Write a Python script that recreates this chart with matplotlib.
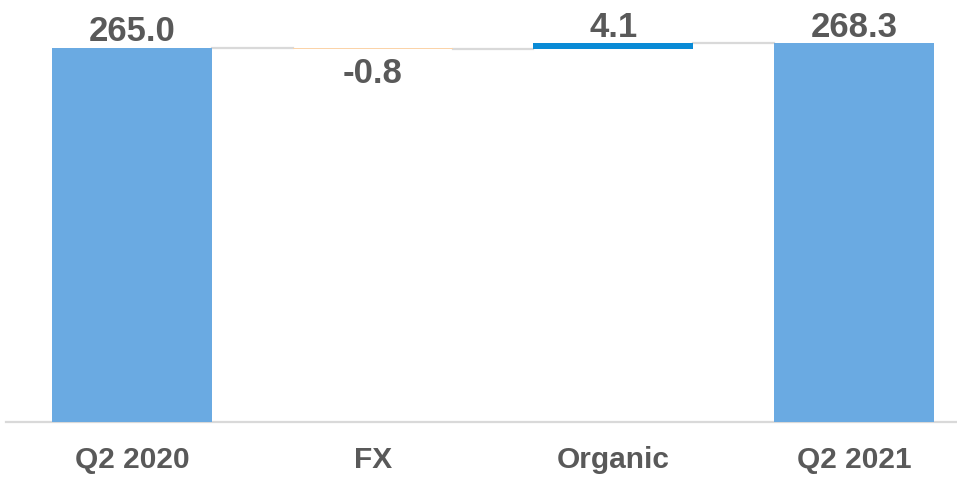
import matplotlib.pyplot as plt
import numpy as np

plt.rcParams['font.family'] = ['Liberation Sans', 'DejaVu Sans']

# データ
categories = ['Q2 2020', 'FX', 'Organic', 'Q2 2021']
start_value = 265.0
deltas = [-0.8, 4.1]
end_value = 268.3

total_color = '#6AAAE2'
neg_color = '#FBD3A8'
pos_color = '#0A8BD6'
text_color = '#595959'
line_color = '#D9D9D9'

fig = plt.figure(figsize=(9.57, 4.78), dpi=100)
ax = fig.add_axes([6 / 957, 56 / 478, 951 / 957, 1 - 56 / 478])

x = np.arange(len(categories))
width = 0.665

# 棒の下端と高さ
levels = [start_value]
for d in deltas:
    levels.append(levels[-1] + d)
bottoms = [0]
heights = [start_value]
colors = [total_color]
for i, d in enumerate(deltas):
    lo = min(levels[i], levels[i + 1])
    bottoms.append(lo)
    heights.append(abs(d))
    colors.append(pos_color if d > 0 else neg_color)
bottoms.append(0)
heights.append(end_value)
colors.append(total_color)

ax.bar(x, heights, width=width, bottom=bottoms, color=colors, zorder=3)

# コネクタ線
tops = [start_value, levels[1], levels[2], end_value]
for i in range(len(categories) - 1):
    ax.plot([x[i] + width / 2, x[i + 1] - width / 2], [tops[i], tops[i]],
            color=line_color, linewidth=1.6, zorder=2)

# ラベル
labels = [f'{start_value:.1f}'] + [f'{d:.1f}' for d in deltas] + [f'{end_value:.1f}']
for i, lab in enumerate(labels):
    if i in (1, 2) and deltas[i - 1] < 0:
        ax.text(x[i], bottoms[i] - 24, lab, ha='center', va='baseline',
                fontsize=25, fontweight='bold', color=text_color)
    else:
        ax.text(x[i], bottoms[i] + heights[i] + 4.6, lab, ha='center', va='baseline',
                fontsize=25, fontweight='bold', color=text_color)

ax.set_xlim(-0.5236, 3.428)
ax.set_ylim(0, 299)
ax.set_xticks(x)
ax.set_xticklabels(categories, fontsize=21.5, fontweight='bold', color=text_color)
ax.tick_params(axis='x', length=0, pad=17)
ax.set_yticks([])
for s in ['top', 'right', 'left']:
    ax.spines[s].set_visible(False)
ax.spines['bottom'].set_color(line_color)
ax.spines['bottom'].set_linewidth(1.6)

fig.savefig('out.png', dpi=100)
